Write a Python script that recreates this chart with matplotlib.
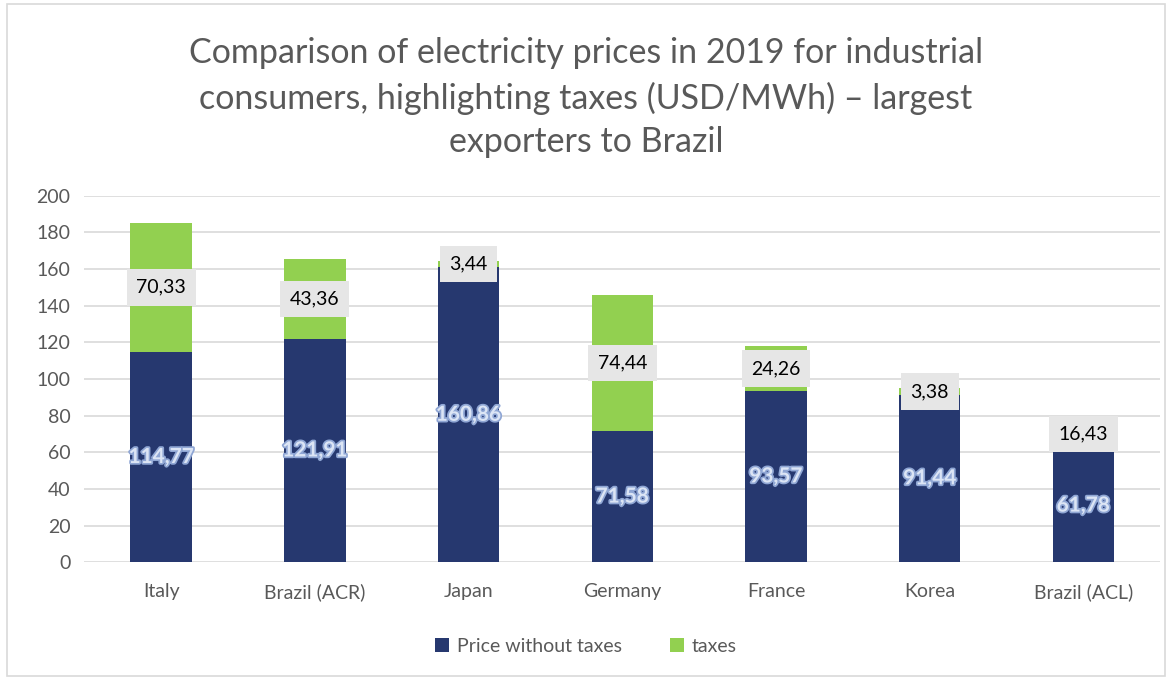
import matplotlib.pyplot as plt
import matplotlib.patheffects as pe
from matplotlib.patches import Rectangle
import numpy as np

plt.rcParams['font.family'] = ['Lato', 'DejaVu Sans']

# Dados do gráfico
countries = ['Italy', 'Brazil (ACR)', 'Japan', 'Germany', 'France', 'Korea', 'Brazil (ACL)']
price_no_tax = [114.77, 121.91, 160.86, 71.58, 93.57, 91.44, 61.78]
taxes = [70.33, 43.36, 3.44, 74.44, 24.26, 3.38, 16.43]
yticks = [0, 20, 40, 60, 80, 100, 120, 140, 160, 180, 200]

blue = '#26386F'
green = '#92D050'
grey_txt = '#595959'

def fmt(v):
    return f'{v:.2f}'.replace('.', ',')

fig = plt.figure(figsize=(11.72, 6.79), dpi=100)
ax = fig.add_axes([0.072, 0.172, 0.918, 0.54])

x = np.arange(len(countries))
ax.bar(x, price_no_tax, width=0.4, color=blue, label='Price without taxes', zorder=2)
ax.bar(x, taxes, width=0.4, bottom=price_no_tax, color=green, label='taxes', zorder=2)

# Rótulos dos valores
for i in range(len(countries)):
    ax.text(x[i], price_no_tax[i] / 2, fmt(price_no_tax[i]), ha='center', va='center',
            fontsize=15, fontweight='bold', color='#DCE5F5', zorder=4,
            path_effects=[pe.withStroke(linewidth=2.5, foreground='#8FA6D4')])
    ax.text(x[i], price_no_tax[i] + taxes[i] / 2, fmt(taxes[i]), ha='center', va='center',
            fontsize=14, color='black', zorder=5,
            bbox=dict(boxstyle='square,pad=0.5', facecolor='#E6E6E6', edgecolor='none'))

ax.set_ylim(0, 200)
ax.set_xlim(-0.5, len(countries) - 0.5)
ax.set_yticks(yticks)
ax.set_xticks(x)
ax.set_xticklabels(countries)
ax.tick_params(axis='both', length=0, labelsize=14, colors=grey_txt)
ax.tick_params(axis='x', pad=15)
ax.tick_params(axis='y', pad=10)
ax.grid(axis='y', color='#D9D9D9', linewidth=1.2, zorder=0)
for s in ax.spines.values():
    s.set_visible(False)

fig.text(0.5, 0.856, 'Comparison of electricity prices in 2019 for industrial\n'
         'consumers, highlighting taxes (USD/MWh) – largest\n'
         'exporters to Brazil', ha='center', va='center', fontsize=24.5,
         color=grey_txt, linespacing=1.45)

fig.legend(loc='lower center', bbox_to_anchor=(0.5, 0.01), ncol=2, frameon=False,
           fontsize=14, labelcolor=grey_txt, handlelength=0.7, handleheight=0.7,
           columnspacing=2.5, handletextpad=0.4)

# Borda externa
fig.patches.append(Rectangle((0.006, 0.004), 0.988, 0.99, transform=fig.transFigure,
                             fill=False, edgecolor='#D9D9D9', linewidth=1.2))

plt.savefig('out.png', dpi=100)
